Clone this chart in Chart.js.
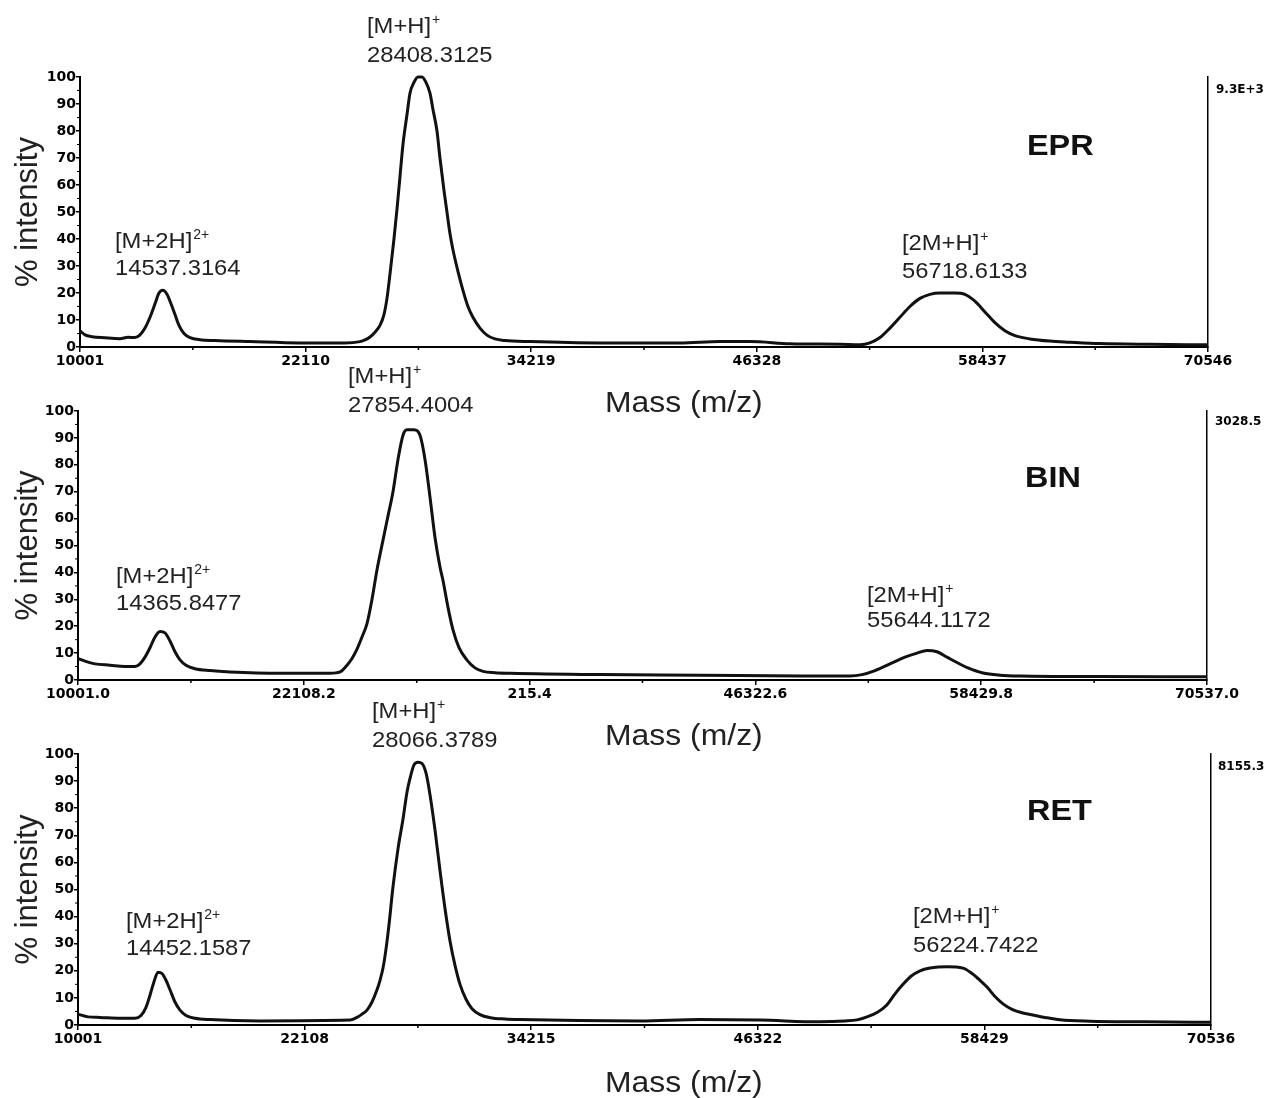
<!DOCTYPE html>
<html>
<head>
<meta charset="utf-8">
<script src="https://cdn.jsdelivr.net/npm/chart.js@4.4.1/dist/chart.umd.min.js"></script>
<style>
  html, body { margin: 0; padding: 0; background: #fff; }
  #wrap { position: relative; width: 1268px; height: 1098px; }
  #wrap canvas { position: absolute; left: 0; top: 0; }
</style>
</head>
<body>
<div id="wrap">
  <canvas id="epr" width="1268" height="1098"></canvas>
  <canvas id="bin" width="1268" height="1098"></canvas>
  <canvas id="ret" width="1268" height="1098"></canvas>
</div>
<script>
// EPR spectrum (m/z vs % intensity)
const eprMass = [10001, 10269, 10645, 11343, 12148, 12577, 12953, 13221, 13490, 13758, 14026, 14241, 14456, 14670, 14885, 15100,
  15314, 15583, 15905, 16441, 17250, 19120, 21810, 24220, 25029, 25297, 25565, 25833, 26102, 26317, 26478, 26639, 26853, 27014,
  27175, 27336, 27551, 27712, 27926, 28141, 28356, 28571, 28786, 28947, 29162, 29322, 29537, 29697, 29859, 30019, 30287, 30556,
  30824, 31092, 31469, 31844, 32274, 32811, 34150, 37910, 42200, 44350, 45960, 48110, 50790, 51864, 52400, 52937, 53474, 54010,
  54547, 55084, 55620, 56157, 56962, 57498, 58035, 58572, 59109, 59645, 60182, 60987, 62061, 63134, 64740, 67430, 70546];
const eprIntensity = [6, 4.5, 3.8, 3.4, 3.1, 3.6, 3.5, 4.5, 7, 11, 16, 20, 21, 19.5, 16, 12,
  8, 5, 3.5, 2.7, 2.4, 2, 1.5, 1.5, 2, 2.6, 3.7, 5.5, 8, 12, 18, 27, 40, 51,
  63, 75, 86, 94, 98, 100, 100, 98, 94, 88, 80, 70, 58, 50, 42, 36, 28, 21,
  15, 11, 7, 4.4, 3, 2.4, 2, 1.5, 1.5, 2, 2, 1.2, 1, 0.8, 1.5, 3.5, 7, 11,
  15, 18, 19.5, 20, 20, 19.5, 17, 13, 9, 6, 4.2, 3, 2.2, 1.8, 1.3, 1, 0.8];
const eprTicks = [10001, 22110, 34219, 46328, 58437, 70546];
const eprTickLabels = ['10001', '22110', '34219', '46328', '58437', '70546'];

// BIN spectrum
const binMass = [10001, 10376, 10913, 11717, 12521, 13057, 13325, 13594, 13862, 14130, 14398, 14666, 14934, 15202, 15470, 15792,
  16274, 17079, 18150, 20830, 23510, 24049, 24425, 24693, 24961, 25229, 25497, 25765, 26034, 26355, 26623, 26891, 27159, 27428,
  27642, 28017, 28339, 28607, 28875, 29143, 29411, 29572, 29840, 30108, 30430, 30859, 31288, 31717, 32360, 33170, 37990, 43350,
  48720, 51395, 52039, 52736, 53540, 54345, 54988, 55524, 56061, 56597, 57133, 57723, 58527, 59439, 60511, 64800, 70537];
const binIntensity = [8, 7, 6, 5.5, 5, 5, 6, 8.5, 12, 16, 18, 17.5, 14.5, 10.5, 7.5, 5.5,
  4.2, 3.5, 3, 2.5, 2.5, 3, 5.5, 8, 11.5, 16, 21, 30, 41, 52, 61, 70, 82, 91,
  93, 93, 91, 82, 68, 53, 42, 37, 27, 18.6, 12, 7.4, 4.5, 3.2, 2.7, 2.5, 2, 1.8,
  1.5, 1.5, 2, 3.5, 6, 8.5, 10, 11, 10.5, 8.5, 6.5, 4.5, 2.6, 1.8, 1.5, 1.3, 1.2];
const binTicks = [10001.0, 22108.2, 34215.4, 46322.6, 58429.8, 70537.0];
const binTickLabels = ['10001.0', '22108.2', '215.4', '46322.6', '58429.8', '70537.0'];

// RET spectrum
const retMass = [10001, 10537, 11179, 12253, 13047, 13367, 13634, 13848, 14062, 14275, 14489, 14703, 14917, 15183, 15451, 15771,
  16252, 17054, 19730, 24534, 24908, 25175, 25442, 25709, 25976, 26137, 26297, 26457, 26617, 26831, 27098, 27366, 27580, 27740,
  27953, 28167, 28381, 28594, 28808, 29075, 29342, 29609, 29877, 30144, 30411, 30732, 31052, 31479, 32013, 32815, 33620, 40030,
  43230, 46440, 49650, 50982, 51624, 52158, 52693, 53227, 53655, 54080, 54507, 54988, 55522, 56431, 57286, 57767, 58194, 58568,
  58995, 59424, 59904, 60439, 61027, 61668, 62469, 64072, 67000, 70536];
const retIntensity = [4, 3, 2.8, 2.5, 2.5, 3.5, 6.5, 11, 16, 19.5, 19, 16.5, 13, 8.5, 5.5, 3.5,
  2.5, 2, 1.5, 1.8, 2.8, 4, 5.5, 8.5, 13, 16.5, 21, 28, 37, 51, 65, 76, 86, 91,
  96, 97, 96.5, 93, 85, 72, 57, 43, 31, 22, 15, 9.5, 6, 3.8, 2.7, 2.2, 2, 1.5,
  2, 1.8, 1.2, 1.5, 1.9, 3, 4.6, 7.5, 11.5, 15, 18, 20, 21, 21.5, 21, 19, 16.5, 14,
  10.5, 7.8, 5.8, 4.5, 3.7, 2.8, 1.9, 1.4, 1.2, 1];
const retTicks = [10001, 22108, 34215, 46322, 58429, 70536];
const retTickLabels = ['10001', '22108', '34215', '46322', '58429', '70536'];

const W = 1268, H = 1098;
const tickFont = { family: 'DejaVu Sans', weight: 'bold', size: 14 };
const textFont = '22px "Liberation Sans", Arial, sans-serif';
const supFont = '14px "Liberation Sans", Arial, sans-serif';

function drawText(ctx, str, x, y, font, sx, color) {
  ctx.save();
  ctx.font = font;
  ctx.fillStyle = color;
  ctx.textAlign = 'left';
  ctx.textBaseline = 'alphabetic';
  ctx.translate(x, y);
  ctx.scale(sx, 1);
  ctx.fillText(str, 0, 0);
  const w = ctx.measureText(str).width * sx;
  ctx.restore();
  return w;
}

// peak labels, panel name, axis caption and right-hand max value
function makeTextPlugin(labels, name, massY, maxText) {
  return {
    id: 'panelText',
    afterDraw(chart) {
      const ctx = chart.ctx;
      labels.forEach(l => {
        const w = drawText(ctx, l.t, l.x, l.y, textFont, 1.08, '#222');
        if (l.sup) drawText(ctx, l.sup, l.x + w + 1, l.y - 9, supFont, 1.0, '#222');
      });
      drawText(ctx, name.t, name.x, name.y, 'bold 30px "Liberation Sans", Arial, sans-serif', 1.08, '#111');
      drawText(ctx, 'Mass (m/z)', 605, massY, '29px "Liberation Sans", Arial, sans-serif', 1.1, '#222');
      drawText(ctx, maxText.t, maxText.x, maxText.y, 'bold 12px "DejaVu Sans", sans-serif', 1.0, '#000');
    }
  };
}

// small in-between ticks on both axes
const minorTicks = {
  id: 'minorTicks',
  afterDraw(chart) {
    const ctx = chart.ctx;
    const xs = chart.scales.x, ys = chart.scales.y;
    ctx.save();
    ctx.strokeStyle = '#000';
    ctx.lineWidth = 1.5;
    const t = xs.ticks;
    for (let i = 0; i + 1 < t.length; i++) {
      const px = xs.getPixelForValue((t[i].value + t[i + 1].value) / 2);
      ctx.beginPath();
      ctx.moveTo(px, xs.top);
      ctx.lineTo(px, xs.top + 3);
      ctx.stroke();
    }
    ctx.lineWidth = 1;
    for (let v = 5; v < 100; v += 10) {
      const py = ys.getPixelForValue(v);
      ctx.beginPath();
      ctx.moveTo(ys.right, py);
      ctx.lineTo(ys.right - 3, py);
      ctx.stroke();
    }
    ctx.restore();
  }
};

function makePanel(id, masses, intensities, ticks, tickLabels, box, textPlugin) {
  const points = masses.map((m, i) => ({ x: m, y: intensities[i] }));
  return new Chart(document.getElementById(id), {
    type: 'line',
    data: {
      datasets: [{
        data: points,
        borderColor: '#111',
        borderWidth: 3,
        pointRadius: 0,
        cubicInterpolationMode: 'monotone',
        fill: false,
        clip: false
      }]
    },
    options: {
      responsive: false,
      animation: false,
      devicePixelRatio: 1,
      events: [],
      layout: {
        padding: { left: 10, top: box.top, right: W - box.right, bottom: H - box.bottom - 30 }
      },
      plugins: { legend: { display: false }, tooltip: { enabled: false } },
      scales: {
        x: {
          type: 'linear',
          min: ticks[0],
          max: ticks[ticks.length - 1],
          afterBuildTicks: s => { s.ticks = ticks.map(v => ({ value: v })); },
          afterFit: s => { s.height = 30; },
          ticks: {
            autoSkip: false,
            maxRotation: 0,
            padding: 1,
            color: '#000',
            font: tickFont,
            callback: (v, i) => tickLabels[i]
          },
          grid: { drawOnChartArea: false, tickLength: 5, color: '#000', lineWidth: 1.5 },
          border: { color: '#000', width: 2 }
        },
        y: {
          min: 0,
          max: 100,
          afterFit: s => { s.width = box.left - 10; },
          ticks: { stepSize: 10, padding: 0, color: '#000', font: tickFont },
          grid: { drawOnChartArea: false, tickLength: 4, color: '#000', lineWidth: 1.5 },
          border: { color: '#000', width: 2 },
          title: {
            display: true,
            text: '% intensity',
            color: '#222',
            padding: 0,
            font: { family: 'Liberation Sans', size: 31 }
          }
        },
        y1: {
          position: 'right',
          min: 0,
          max: 100,
          afterFit: s => { s.width = 0; },
          ticks: { display: false },
          grid: { drawOnChartArea: false, drawTicks: false },
          border: { color: '#000', width: 1.5 }
        }
      }
    },
    plugins: [minorTicks, textPlugin]
  });
}

makePanel('epr', eprMass, eprIntensity, eprTicks, eprTickLabels,
  { left: 80, right: 1208, top: 77, bottom: 347 },
  makeTextPlugin([
    { t: '[M+H]', sup: '+', x: 367, y: 33 },
    { t: '28408.3125', x: 367, y: 62 },
    { t: '[M+2H]', sup: '2+', x: 115, y: 248 },
    { t: '14537.3164', x: 115, y: 275 },
    { t: '[2M+H]', sup: '+', x: 902, y: 250 },
    { t: '56718.6133', x: 902, y: 278 }
  ], { t: 'EPR', x: 1027, y: 155 }, 412, { t: '9.3E+3', x: 1216, y: 93 }));

makePanel('bin', binMass, binIntensity, binTicks, binTickLabels,
  { left: 78, right: 1207, top: 411, bottom: 680 },
  makeTextPlugin([
    { t: '[M+H]', sup: '+', x: 348, y: 383 },
    { t: '27854.4004', x: 348, y: 412 },
    { t: '[M+2H]', sup: '2+', x: 116, y: 583 },
    { t: '14365.8477', x: 116, y: 610 },
    { t: '[2M+H]', sup: '+', x: 867, y: 602 },
    { t: '55644.1172', x: 867, y: 627 }
  ], { t: 'BIN', x: 1025, y: 487 }, 745, { t: '3028.5', x: 1215, y: 425 }));

makePanel('ret', retMass, retIntensity, retTicks, retTickLabels,
  { left: 78, right: 1211, top: 754, bottom: 1025 },
  makeTextPlugin([
    { t: '[M+H]', sup: '+', x: 372, y: 718 },
    { t: '28066.3789', x: 372, y: 747 },
    { t: '[M+2H]', sup: '2+', x: 126, y: 928 },
    { t: '14452.1587', x: 126, y: 955 },
    { t: '[2M+H]', sup: '+', x: 913, y: 923 },
    { t: '56224.7422', x: 913, y: 952 }
  ], { t: 'RET', x: 1027, y: 820 }, 1092, { t: '8155.3', x: 1218, y: 770 }));
</script>
</body>
</html>
